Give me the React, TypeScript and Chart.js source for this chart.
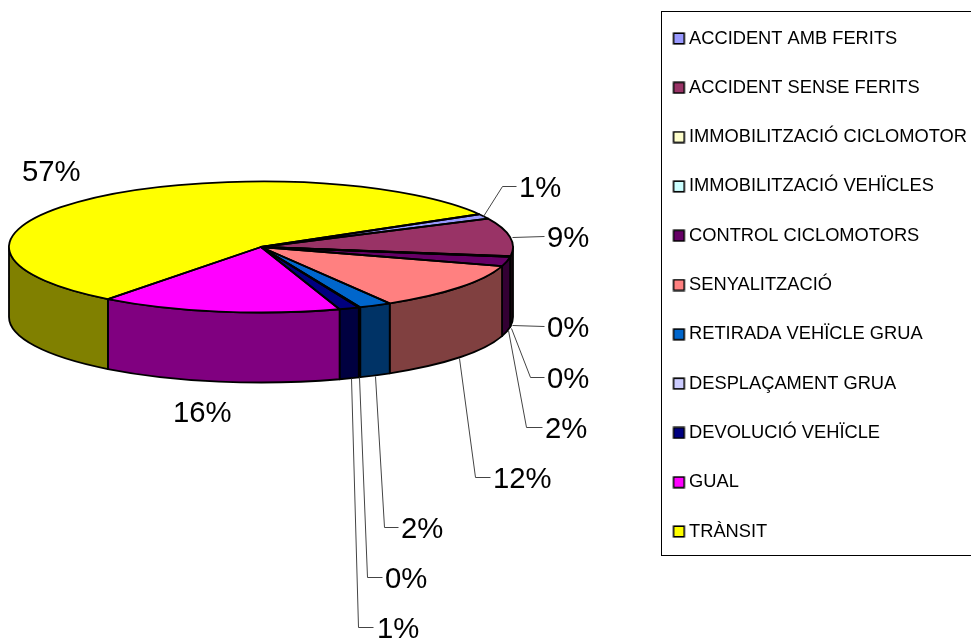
import React, { useEffect, useRef } from "react";
import { Chart, registerables } from "chart.js";

Chart.register(...registerables);

const categories = [
  "ACCIDENT AMB FERITS",
  "ACCIDENT SENSE FERITS",
  "IMMOBILITZACIÓ CICLOMOTOR",
  "IMMOBILITZACIÓ VEHÏCLES",
  "CONTROL CICLOMOTORS",
  "SENYALITZACIÓ",
  "RETIRADA VEHÏCLE GRUA",
  "DESPLAÇAMENT GRUA",
  "DEVOLUCIÓ VEHÏCLE",
  "GUAL",
  "TRÀNSIT",
];
const shares = [1.2, 9.4, 0.1, 0.1, 2.3, 11.8, 2.1, 0.1, 1.3, 15.5, 56.5];
const topColors = ["#9999FF", "#993366", "#FFFFCC", "#CCFFFF", "#660066", "#FF8080", "#0066CC", "#CCCCFF", "#000080", "#FF00FF", "#FFFF00"];
const sideColors = ["#4D4D80", "#4D1933", "#808066", "#668080", "#330033", "#804040", "#003366", "#666680", "#000040", "#800080", "#808000"];

// Label placement: [text x, text y, optional leader polyline]
const labelLayout: [number, number, number[][] | null][] = [
  [519, 189, [[483, 216], [502, 186], [516, 186]]],
  [547, 239, [[512, 237], [544, 236]]],
  [547, 329, [[512, 325], [544, 326]]],
  [547, 380, [[511, 328], [530, 377], [544, 377]]],
  [545, 430, [[508, 330], [526, 427], [542, 427]]],
  [493, 480, [[459, 358], [475, 477], [490, 477]]],
  [401, 530, [[375, 376], [384, 527], [398, 527]]],
  [385, 580, [[359, 377], [367, 577], [382, 577]]],
  [377, 630, [[351, 378], [358, 627], [373, 627]]],
  [173, 414, null],
  [22, 173, null],
];

const RX = 252;
const RY = 65.5;
const CX = 261;
const CY = 247;
const DEPTH = 70;
const EDGE = 1.8;

function swatch(color: string) {
  const c = document.createElement("canvas");
  c.width = 15;
  c.height = 13;
  const g = c.getContext("2d")!;
  g.fillStyle = color;
  g.fillRect(2, 1, 11, 11);
  g.strokeStyle = "#000";
  g.lineWidth = 1.6;
  g.strokeRect(2.2, 1.2, 10.6, 10.6);
  return c;
}

const pie3d = {
  id: "pie3d",
  beforeDatasetsDraw(chart: any) {
    const ctx = chart.ctx;
    const arcs = chart.getDatasetMeta(0).data;
    ctx.save();
    ctx.lineWidth = EDGE;
    ctx.strokeStyle = "#000";
    ctx.lineJoin = "round";
    arcs.forEach((arc: any, i: number) => {
      [-2 * Math.PI, 0, 2 * Math.PI].forEach((shift) => {
        const a = Math.max(arc.startAngle + shift, 0);
        const b = Math.min(arc.endAngle + shift, Math.PI);
        if (b <= a) return;
        ctx.beginPath();
        ctx.ellipse(CX, CY, RX, RY, 0, a, b);
        ctx.ellipse(CX, CY + DEPTH, RX, RY, 0, b, a, true);
        ctx.closePath();
        ctx.fillStyle = sideColors[i];
        ctx.fill();
        ctx.stroke();
      });
    });
    ctx.restore();
    ctx.save();
    ctx.translate(CX, CY);
    ctx.scale(1, RY / RX);
    ctx.translate(-arcs[0].x, -arcs[0].y);
  },
  afterDatasetsDraw(chart: any) {
    const ctx = chart.ctx;
    ctx.restore();
    const arcs = chart.getDatasetMeta(0).data;
    ctx.save();
    ctx.lineWidth = EDGE;
    ctx.strokeStyle = "#000";
    ctx.lineJoin = "round";
    arcs.forEach((arc: any) => {
      ctx.beginPath();
      ctx.moveTo(CX, CY);
      ctx.ellipse(CX, CY, RX, RY, 0, arc.startAngle, arc.endAngle);
      ctx.closePath();
      ctx.stroke();
    });
    ctx.restore();
  },
  afterDraw(chart: any) {
    const ctx = chart.ctx;
    ctx.save();
    ctx.strokeStyle = "#000";
    ctx.lineWidth = 1;
    ctx.strokeRect(661.5, 11.5, 400, 544);
    ctx.strokeStyle = "#444";
    ctx.fillStyle = "#000";
    ctx.font = '29.3px "Liberation Sans"';
    ctx.textBaseline = "middle";
    shares.forEach((v, i) => {
      const [x, y, leader] = labelLayout[i];
      if (leader) {
        ctx.beginPath();
        leader.forEach(([px, py], k) => (k ? ctx.lineTo(px + 0.5, py + 0.5) : ctx.moveTo(px + 0.5, py + 0.5)));
        ctx.stroke();
      }
      ctx.fillText(`${Math.round(v)}%`, x, y);
    });
    ctx.restore();
  },
};

export default function App() {
  const ref = useRef<HTMLCanvasElement>(null);
  useEffect(() => {
    const base = (Chart as any).overrides.doughnut.plugins.legend.labels.generateLabels;
    const chart = new Chart(ref.current!, {
      type: "pie",
      data: {
        labels: categories,
        datasets: [
          {
            data: shares,
            backgroundColor: topColors,
            borderWidth: 0,
            clip: false,
          } as any,
        ],
      },
      options: {
        responsive: false,
        animation: false,
        events: [],
        rotation: 60,
        radius: RX,
        layout: { padding: { left: 0, right: -6, top: -39, bottom: 30 } },
        plugins: {
          tooltip: { enabled: false },
          legend: {
            position: "right",
            labels: {
              usePointStyle: true,
              pointStyleWidth: 2,
              padding: 31,
              color: "#000",
              font: { family: '"Liberation Sans"', size: 18.3 },
              generateLabels: (c: any) =>
                base(c).map((l: any, i: number) => ({ ...l, pointStyle: swatch(topColors[i]) })),
            },
          },
        },
      } as any,
      plugins: [pie3d],
    });
    return () => chart.destroy();
  }, []);
  return (
    <canvas
      ref={ref}
      width={971}
      height={639}
      style={{ position: "absolute", left: 0, top: 0, display: "block" }}
    />
  );
}
